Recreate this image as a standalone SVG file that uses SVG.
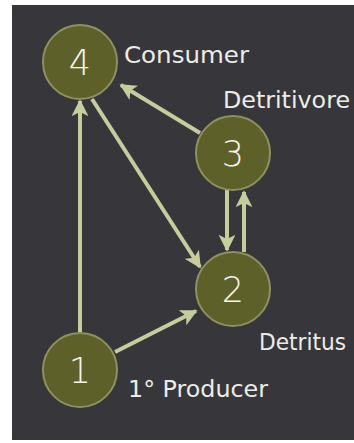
<svg xmlns="http://www.w3.org/2000/svg" width="354" height="443" viewBox="0 0 354 443">
<defs>
<style>
.node circle{fill:#5d6029;stroke:#8e915e;stroke-width:2}
.num{font-family:"DejaVu Sans",sans-serif;font-size:35px;fill:#f4f4ee;text-anchor:middle;font-weight:200}
.lbl{font-family:"DejaVu Sans",sans-serif;font-size:23px;fill:#ecece6}
.edge{stroke:#c6cc9c;stroke-width:4;fill:none;marker-end:url(#ah)}
</style>
<marker id="ah" viewBox="0 0 10 10" refX="9" refY="5" markerWidth="4.2" markerHeight="4.2" orient="auto" markerUnits="strokeWidth">
<path d="M0,0 L10,5 L0,10 L2.5,5 Z" fill="#c6cc9c"/>
</marker>
</defs>
<rect x="0" y="0" width="354" height="443" fill="#ffffff"/>
<rect x="12" y="5" width="342" height="435" fill="#37363b"/>
<g id="connectors">
<line class="edge" x1="80" y1="332" x2="80" y2="101"/>
<line class="edge" x1="92" y1="99" x2="200" y2="267"/>
<line class="edge" x1="200" y1="133" x2="121" y2="85"/>
<line class="edge" x1="227" y1="190" x2="227" y2="250"/>
<line class="edge" x1="244" y1="252" x2="244" y2="192"/>
<line class="edge" x1="115" y1="352" x2="196" y2="311"/>
</g>
<g id="node4" class="node">
<circle cx="80" cy="62" r="37"/>
<text class="num" x="80" y="75">4</text>
<text class="lbl" x="124" y="63" textLength="125" lengthAdjust="spacingAndGlyphs">Consumer</text>
</g>
<g id="node3" class="node">
<circle cx="233" cy="153" r="37"/>
<text class="num" x="233" y="166">3</text>
<text class="lbl" x="223" y="108" textLength="127" lengthAdjust="spacingAndGlyphs">Detritivore</text>
</g>
<g id="node2" class="node">
<circle cx="233" cy="289" r="37"/>
<text class="num" x="233" y="302">2</text>
<text class="lbl" x="259" y="350" textLength="87" lengthAdjust="spacingAndGlyphs">Detritus</text>
</g>
<g id="node1" class="node">
<circle cx="80" cy="370" r="37"/>
<text class="num" x="80" y="383">1</text>
<text class="lbl" x="128" y="397" textLength="140" lengthAdjust="spacingAndGlyphs">1° Producer</text>
</g>
</svg>
